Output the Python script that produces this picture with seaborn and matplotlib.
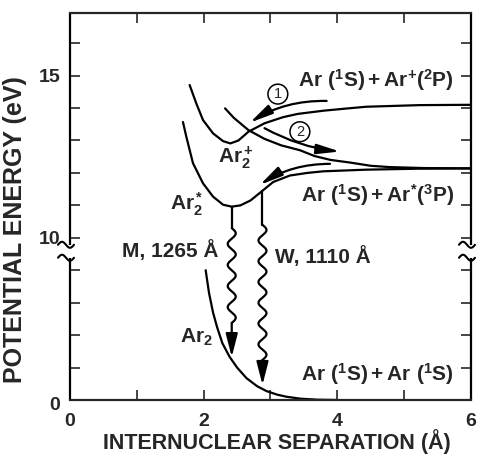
import numpy as np
import matplotlib
matplotlib.use("Agg")
import matplotlib.pyplot as plt
import seaborn as sns
from matplotlib.transforms import ScaledTranslation, blended_transform_factory

sns.set_style("ticks")
plt.rcParams['font.family'] = ['Liberation Sans', 'DejaVu Sans']
plt.rcParams['font.weight'] = 'bold'
plt.rcParams['mathtext.fontset'] = 'custom'
for k in ('rm', 'bf', 'it', 'sf'):
    plt.rcParams['mathtext.' + k] = 'Liberation Sans:bold'

# ---------------- data ----------------
ground_x = [2.03, 2.08, 2.14, 2.20, 2.28, 2.39, 2.50, 2.64, 2.80, 2.94, 3.10, 3.24, 3.45, 3.70, 4.00]
ground_y = [8.0, 6.6, 5.4, 4.5, 3.5, 2.65, 2.0, 1.35, 0.85, 0.55, 0.33, 0.2, 0.08, 0.02, 0.0]

excimer_x = [1.69, 1.74, 1.84, 1.99, 2.14, 2.29, 2.42, 2.55, 2.70, 2.88, 3.04, 3.29, 3.55, 3.79, 4.43, 5.20, 6.00]
excimer_y = [13.57, 13.12, 12.30, 11.68, 11.27, 11.02, 10.96, 11.00, 11.15, 11.45, 11.72, 11.92, 12.00, 12.05, 12.10, 12.13, 12.14]

ion_x = [1.79, 1.89, 1.99, 2.14, 2.29, 2.40, 2.52, 2.67, 2.91, 3.19, 3.41, 3.80, 4.11, 4.43, 5.23, 6.00]
ion_y = [14.71, 14.14, 13.63, 13.22, 12.98, 12.91, 13.00, 13.27, 13.53, 13.72, 13.82, 13.92, 13.98, 14.04, 14.09, 14.10]

repuls_x = [2.32, 2.45, 2.67, 2.91, 3.16, 3.44, 3.66, 3.90, 4.19, 4.50, 4.78, 5.30, 6.00]
repuls_y = [13.99, 13.70, 13.32, 13.05, 12.85, 12.70, 12.52, 12.40, 12.32, 12.22, 12.18, 12.15, 12.14]

# radiative transitions M and W
trans_names = ["M, 1265 Å", "W, 1110 Å"]
trans_x = [2.42, 2.88]
trans_top = [10.96, 11.45]
wave_top = [10.30, 10.40]
wave_bot = [4.75, 2.47]
trans_tip = [2.65, 0.93]

# curved process arrows (start, end)
arrow_start = [(3.84, 14.22), (2.91, 13.38), (3.89, 12.28)]
arrow_end = [(2.69, 13.55), (4.04, 12.66), (2.84, 11.63)]
arrow_rad = [0.15, 0.10, 0.15]
circ_labels = ["1", "2"]
circ_pos = [(3.11, 14.43), (3.44, 13.27)]

x_major = [0, 2, 4, 6]
x_minor = [1, 3, 5]
y_major = [0, 10, 15]
y_minor = [2, 4, 6, 8, 11, 12, 13, 14, 16]
y_break = [8.77, 9.57]

# ---------------- figure ----------------
W, H = 485, 459
fig = plt.figure(figsize=(W / 100, H / 100), dpi=100)
ax = fig.add_axes([70 / W, (H - 400) / H, (471 - 70) / W, 387 / H])


def fwd(y):
    y = np.asarray(y, dtype=float)
    return np.where(y <= 10, y / 2.0, y - 5.0)


def inv(t):
    t = np.asarray(t, dtype=float)
    return np.where(t <= 5, t * 2.0, t + 5.0)


ax.set_yscale('function', functions=(fwd, inv))
ax.set_xlim(0, 6)
ax.set_ylim(0, 16.93)

LW = 1.6
for xs, ys in [(ground_x, ground_y), (excimer_x, excimer_y), (ion_x, ion_y), (repuls_x, repuls_y)]:
    sns.lineplot(x=xs, y=ys, ax=ax, color='black', lw=LW, sort=False, estimator=None)

# ticks
ax.set_xticks(x_major)
ax.set_xticks(x_minor, minor=True)
ax.set_yticks(y_major)
ax.set_yticks(y_minor, minor=True)
ax.set_xticklabels([str(v) for v in x_major])
ax.set_yticklabels([str(v) for v in y_major])
ax.tick_params(which='both', direction='in', length=7.5, width=1.2, top=True, right=True,
               labelsize=14)
ax.tick_params(axis='x', which='major', pad=9)
ax.tick_params(axis='y', which='major', pad=7)
for lab in ax.get_yticklabels():
    if lab.get_text() == '0':
        lab.set_transform(lab.get_transform() + ScaledTranslation(0, -0.04, fig.dpi_scale_trans))

for s in ['top', 'bottom']:
    ax.spines[s].set_linewidth(1.6)
for s in ['left', 'right']:
    ax.spines[s].set_visible(False)

# broken side spines with wavy break marks
bt = blended_transform_factory(ax.transAxes, ax.transData)
for xa in (0, 1):
    ax.plot([xa, xa], [0, y_break[0]], transform=bt, color='black', lw=1.6, clip_on=False,
            solid_capstyle='butt')
    ax.plot([xa, xa], [y_break[1], 16.93], transform=bt, color='black', lw=1.6, clip_on=False,
            solid_capstyle='butt')
    for yb in y_break:
        p = ax.transData.transform((0 if xa == 0 else 6, yb))
        t = np.linspace(0, 1, 60)
        xs = p[0] - 12 + 16 * t
        ys = p[1] + 3.0 * np.sin(2 * np.pi * t)
        pts = ax.transData.inverted().transform(np.column_stack([xs, ys]))
        ax.plot(pts[:, 0], pts[:, 1], color='black', lw=1.5, clip_on=False)

# transitions
for i in range(len(trans_x)):
    x = trans_x[i]
    ax.plot([x, x], [trans_top[i], wave_top[i]], color='black', lw=LW)
    p0 = ax.transData.transform((x, wave_top[i]))
    p1 = ax.transData.transform((x, wave_bot[i]))
    length = p0[1] - p1[1]
    n = max(1, int(round(length / 10.5)))
    per = 2 * length / n
    t = np.linspace(0, length, 500)
    xs = p0[0] + 4.0 * np.sin(2 * np.pi * t / per)
    ys = p0[1] - t
    pts = ax.transData.inverted().transform(np.column_stack([xs, ys]))
    ax.plot(pts[:, 0], pts[:, 1], color='black', lw=LW)
    ax.annotate('', xy=(x, trans_tip[i]), xytext=(x, wave_bot[i]),
                arrowprops=dict(arrowstyle='-|>,head_length=1.4,head_width=0.36', color='black',
                                lw=LW, shrinkA=0, shrinkB=0, mutation_scale=10))

for (s, e, r) in zip(arrow_start, arrow_end, arrow_rad):
    ax.annotate('', xy=e, xytext=s,
                arrowprops=dict(arrowstyle='-|>,head_length=1.4,head_width=0.3', color='black',
                                lw=LW, shrinkA=0, shrinkB=0, mutation_scale=10,
                                connectionstyle=f'arc3,rad={r}'))

for lab, (cx, cy) in zip(circ_labels, circ_pos):
    ax.text(cx, cy, lab, ha='center', va='center', fontsize=10.5, fontweight='normal',
            bbox=dict(boxstyle='circle,pad=0.2', fc='white', ec='black', lw=1.1))

# text labels
FS = 15
ax.text(5.75, 14.86, r'$\mathrm{Ar\ (^1S) + Ar^{+}(^2P)}$', ha='right', va='center', fontsize=FS)
ax.text(5.75, 11.32, r'$\mathrm{Ar\ (^1S) + Ar^{*}(^3P)}$', ha='right', va='center', fontsize=FS)
ax.text(5.75, 1.60, r'$\mathrm{Ar\ (^1S) + Ar\ (^1S)}$', ha='right', va='center', fontsize=FS)
ax.text(2.21, 12.31, r'$\mathrm{Ar_2^+}$', ha='left', va='baseline', fontsize=FS)
ax.text(1.49, 10.86, r'$\mathrm{Ar_2^*}$', ha='left', va='baseline', fontsize=FS)
ax.text(1.64, 3.52, r'$\mathrm{Ar_2}$', ha='left', va='baseline', fontsize=FS)
ax.text(0.78, 8.83, trans_names[0], ha='left', va='baseline', fontsize=FS)
ax.text(3.06, 8.46, trans_names[1], ha='left', va='baseline', fontsize=FS)

ax.set_xlabel('INTERNUCLEAR SEPARATION (Å)', fontsize=15.5, fontweight='bold')
ax.set_ylabel('POTENTIAL ENERGY (eV)', fontsize=18, fontweight='bold')
ax.xaxis.label.set_va('center')
ax.yaxis.label.set_va('center')
ax.xaxis.set_label_coords((277 - 70) / 401, (400 - 442) / 387)
ax.yaxis.set_label_coords((15 - 70) / 401, (400 - 230) / 387)

fig.savefig('out.png', dpi=100)
